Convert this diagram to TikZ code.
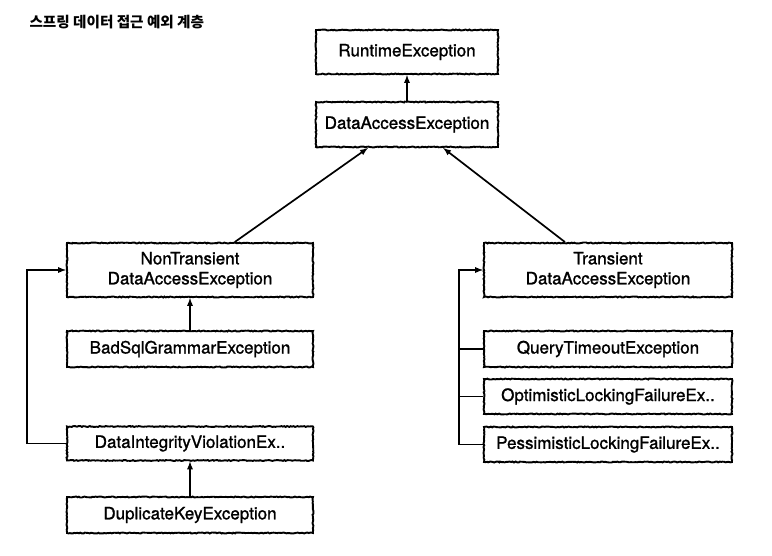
\documentclass[tikz,border=0pt]{standalone}
\usepackage{fontspec}
\setmainfont{TeX Gyre Heros}
\newfontfamily\medfont{TeX Gyre Heros}[FakeBold=1.2]
\newfontfamily\kofont{Noto Sans CJK KR}
\usetikzlibrary{decorations.pathmorphing}
\tikzset{%
    exc/.style={draw,line width=1.9pt,fill=white,align=center,inner sep=0pt,
        font=\medfont\fontsize{17}{20}\selectfont,minimum width=246pt,
        decorate,decoration={random steps,segment length=1.5pt,amplitude=0.5pt}}
}

\begin{document}
\begin{tikzpicture}[x=1pt,y=-1pt]
        \useasboundingbox[fill=white] (0,0) rectangle (772,555);

        \node[anchor=west,font=\kofont\bfseries\fontsize{14.6}{18}\selectfont] (title) at (26,22) {스프링 데이터 접근 예외 계층};

        \node[exc,minimum width=182pt,minimum height=44pt] (rte) at (407,52) {RuntimeException};
        \node[exc,minimum width=182pt,minimum height=45pt] (dae) at (407,124.5) {DataAccessException};

        \node[exc,minimum height=54pt] (ntdae) at (190,270) {NonTransient\\DataAccessException};
        \node[exc,minimum height=36pt] (bsg) at (190,349) {BadSqlGrammarException};
        \node[exc,minimum height=34pt] (div) at (190,443.5) {DataIntegrityViolationEx..};
        \node[exc,minimum height=36pt] (dke) at (190,515) {DuplicateKeyException};

        \node[exc,minimum width=248pt,minimum height=54pt] (tdae) at (608,270) {Transient\\DataAccessException};
        \node[exc,minimum width=248pt,minimum height=36pt] (qte) at (608,349) {QueryTimeoutException};
        \node[exc,minimum width=248pt,minimum height=35pt] (olf) at (608,396.5) {OptimisticLockingFailureEx..};
        \node[exc,minimum width=248pt,minimum height=35pt] (plf) at (608,444.5) {PessimisticLockingFailureEx..};

        \coordinate (lbus) at (27,443.5);
        \coordinate (rbus) at (459,444.5);

        \draw[line width=1.7pt,-latex] (dae) -- (rte);
        \draw[line width=1.7pt,-latex] (ntdae.32) -- (dae.211);
        \draw[line width=1.7pt,-latex] (tdae.147) -- (dae.327);

        \draw[line width=1.7pt,-latex] (bsg) -- (ntdae);
        \draw[line width=1.7pt,-latex] (dke) -- (div);
        \draw[line width=1.7pt,-latex] (div.west) -- (lbus) |- (ntdae.west);

        \draw[line width=1.7pt,-latex] (plf.west) -- (rbus) |- (tdae.west);
        \draw[line width=1.7pt] (qte.west) -- (qte.west -| rbus);
        \draw[line width=1.7pt] (olf.west) -- (olf.west -| rbus);
    \end{tikzpicture}
\end{document}
